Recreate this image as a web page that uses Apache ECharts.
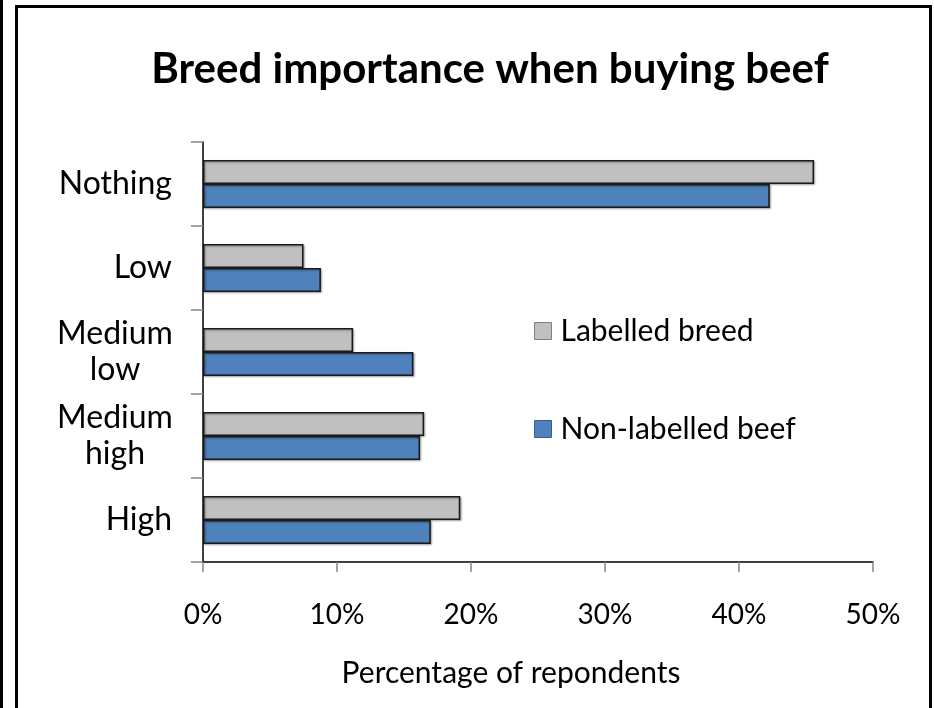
<!DOCTYPE html>
<html>
<head>
<meta charset="utf-8">
<title>Breed importance when buying beef</title>
<script src="https://cdn.jsdelivr.net/npm/echarts@6/dist/echarts.min.js"></script>
<style>
  html, body { margin: 0; padding: 0; background: #fff; }
  #wrap { position: relative; width: 934px; height: 708px; overflow: hidden; }
  #chart { position: absolute; left: 0; top: 0; width: 934px; height: 708px; }
  .edge { position: absolute; background: #000; pointer-events: none; }
</style>
</head>
<body>
<div id="wrap">
  <div id="chart"></div>
  <div class="edge" style="left:0;top:0;width:3px;height:708px;"></div>
  <div class="edge" style="left:15px;top:5px;width:3px;height:703px;"></div>
  <div class="edge" style="left:15px;top:5px;width:917px;height:3px;"></div>
  <div class="edge" style="left:929px;top:5px;width:3px;height:703px;"></div>
</div>
<script>
// Importance of breed when buying beef, share of respondents
const categories = ['Nothing', 'Low', 'Medium\nlow', 'Medium\nhigh', 'High'];
const labelledBreed = [0.456, 0.075, 0.112, 0.165, 0.192];
const nonLabelledBeef = [0.423, 0.088, 0.157, 0.162, 0.170];
const seriesNames = ['Labelled breed', 'Non-labelled beef'];
const xTicks = [0, 0.1, 0.2, 0.3, 0.4, 0.5];

const FONT = 'Lato, "Open Sans", sans-serif';
const chart = echarts.init(document.getElementById('chart'), null, { renderer: 'canvas' });

const barStyle = (color) => ({
  color: color,
  borderColor: '#1a1a1a',
  borderWidth: 1.5,
  shadowColor: 'rgba(0,0,0,0.35)',
  shadowBlur: 2,
  shadowOffsetX: 1,
  shadowOffsetY: 1
});

chart.setOption({
  animation: false,
  title: {
    text: 'Breed importance when buying beef',
    left: 485,
    textAlign: 'center',
    top: 43,
    textStyle: { fontFamily: FONT, fontWeight: 'bold', fontSize: 42, color: '#000' }
  },
  legend: {
    orient: 'vertical',
    left: 529,
    top: 311,
    itemWidth: 17,
    itemHeight: 17,
    itemGap: 68,
    icon: 'rect',
    textStyle: { fontFamily: FONT, fontSize: 30, color: '#000', padding: [0, 0, 0, 4] },
    data: [
      { name: seriesNames[0], itemStyle: { color: '#C0C0C0', borderColor: '#7f7f7f', borderWidth: 1 } },
      { name: seriesNames[1], itemStyle: { color: '#4F81BD', borderColor: '#385d8a', borderWidth: 1 } }
    ]
  },
  grid: { left: 203, top: 142, width: 670, height: 420, containLabel: false },
  xAxis: {
    type: 'value',
    min: 0,
    max: 0.5,
    interval: 0.1,
    splitLine: { show: false },
    axisLine: { show: true, lineStyle: { color: '#000', width: 1.5 } },
    axisTick: { show: true, length: 10, lineStyle: { color: '#868686', width: 1.5 } },
    axisLabel: {
      margin: 39,
      fontFamily: FONT, fontSize: 28, color: '#000',
      formatter: (v) => xTicks.indexOf(Math.round(v * 10) / 10) >= 0 ? Math.round(v * 100) + '%' : ''
    },
    name: 'Percentage of repondents',
    nameLocation: 'middle',
    nameGap: 96,
    nameTextStyle: { fontFamily: FONT, fontSize: 30, color: '#000', padding: [0, 54, 0, 0] }
  },
  yAxis: {
    type: 'category',
    inverse: true,
    data: categories,
    axisLine: { show: true, lineStyle: { color: '#000', width: 1.5 } },
    axisTick: { show: true, length: 12, alignWithLabel: false, lineStyle: { color: '#868686', width: 1.5 } },
    axisLabel: {
      margin: 31,
      fontFamily: FONT, fontSize: 32, color: '#000', lineHeight: 36,
      formatter: (v) => v.indexOf('\n') >= 0
        ? v.split('\n').map(s => '{c|' + s + '}').join('\n')
        : v,
      rich: { c: { width: 114, align: 'center', fontFamily: FONT, fontSize: 32, color: '#000', lineHeight: 36 } }
    }
  },
  series: [
    {
      name: seriesNames[0], type: 'bar', data: labelledBreed,
      barGap: '0%', barCategoryGap: '43%',
      itemStyle: barStyle('#C0C0C0')
    },
    {
      name: seriesNames[1], type: 'bar', data: nonLabelledBeef,
      barGap: '0%', barCategoryGap: '43%',
      itemStyle: barStyle('#4F81BD')
    }
  ]
});
</script>
</body>
</html>
